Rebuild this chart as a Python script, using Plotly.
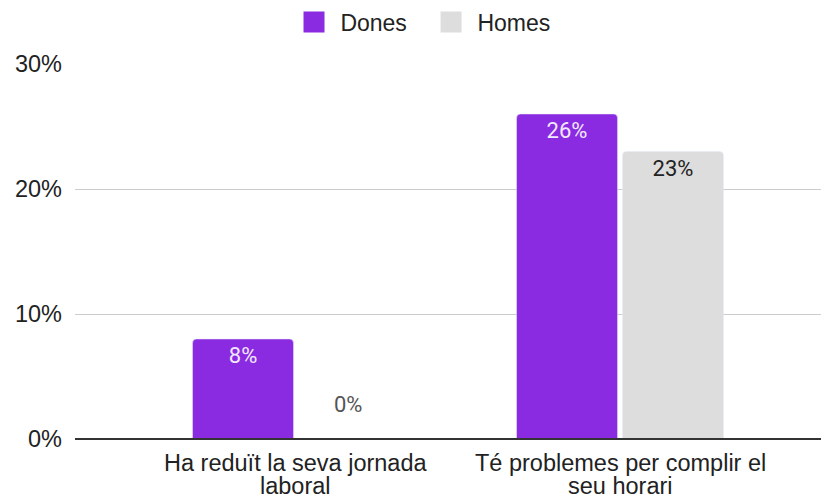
import plotly.graph_objects as go

categories = ["Ha reduït la seva jornada<br>laboral", "Té problemes per complir el<br>seu horari"]
dones = [8, 26]
homes = [0, 23]
series_names = ["Dones", "Homes"]
y_ticks = [0, 10, 20, 30]
y_tick_labels = ["0%", "10%", "20%", "30%"]

PURPLE = "#8A2BE2"
GRAY = "#DDDDDD"
FONT = "Liberation Sans, Arial, sans-serif"

# page body has an 8px margin: figure is sized to fill the rest of the window
W, H = 821, 488

def labels(vals):
    return [f"{v}%" if v > 0 else "" for v in vals]

fig = go.Figure()
fig.add_trace(go.Bar(
    name=series_names[0], x=categories, y=dones, marker_color=PURPLE,
    text=labels(dones), textposition="inside", insidetextanchor="end",
    textfont=dict(family="Roboto", size=22, color="#F2E8FF"),
    textangle=0, showlegend=False,
))
fig.add_trace(go.Bar(
    name=series_names[1], x=categories, y=homes, marker_color=GRAY,
    text=labels(homes), textposition="inside", insidetextanchor="end",
    textfont=dict(family="Roboto", size=22, color="#222222"),
    textangle=0, showlegend=False,
))

# legend entries (square swatches)
for name, col in zip(series_names, [PURPLE, GRAY]):
    fig.add_trace(go.Scatter(
        x=[None], y=[None], mode="markers",
        name="\u00a0" + name + "\u00a0\u00a0\u00a0",
        marker=dict(symbol="square", size=16, color=col,
                    line=dict(color=col, width=5)),
    ))

# zero-value labels drawn above the baseline
for cat, v in zip(categories, homes):
    if v == 0:
        fig.add_annotation(x=cat, y=v, text=f"{v}%", showarrow=False,
                           xshift=52, yshift=35, yanchor="middle",
                           font=dict(family="Roboto", size=22, color="#555555"))
for cat, v in zip(categories, dones):
    if v == 0:
        fig.add_annotation(x=cat, y=v, text=f"{v}%", showarrow=False,
                           xshift=-52, yshift=35, yanchor="middle",
                           font=dict(family="Roboto", size=22, color="#555555"))

# category labels, one annotation per line for tight line spacing
for cat in categories:
    for i, line in enumerate(cat.split("<br>")):
        fig.add_annotation(x=cat, xref="x", y=0, yref="paper", text=line,
                           showarrow=False, yanchor="middle",
                           yshift=-24 - 23 * i,
                           font=dict(family=FONT, size=23.5, color="#222222"))

# dark baseline drawn on top of the bars
fig.add_shape(type="line", xref="paper", x0=0, x1=1, yref="y", y0=0, y1=0,
              line=dict(color="#333333", width=2), layer="above")

fig.update_layout(
    width=W, height=H,
    margin=dict(l=67, r=0, t=56, b=57, autoexpand=False),
    paper_bgcolor="white", plot_bgcolor="white",
    barmode="group", bargap=0.346, bargroupgap=0.047,
    barcornerradius=4,
    font=dict(family=FONT, size=23.5, color="#222222"),
    uniformtext=dict(minsize=22, mode="show"),
    legend=dict(orientation="h", x=0.5 + 16 / W, xanchor="center",
                xref="container", y=1 - 14 / H, yanchor="middle",
                yref="container", font=dict(size=23, color="#222222"),
                traceorder="normal", itemclick=False, itemdoubleclick=False),
    xaxis=dict(range=[-0.682, 1.645], showgrid=False, ticks="", showline=False,
               showticklabels=False, automargin=False),
    yaxis=dict(range=[0, 30], tickvals=y_ticks, ticktext=y_tick_labels,
               showgrid=True, gridcolor="#CCCCCC", gridwidth=1,
               zeroline=True, zerolinecolor="#333333", zerolinewidth=2,
               ticks="", ticklabelstandoff=12, automargin=False,
               tickfont=dict(size=23.5, color="#222222")),
)

fig.write_html("out.html")
